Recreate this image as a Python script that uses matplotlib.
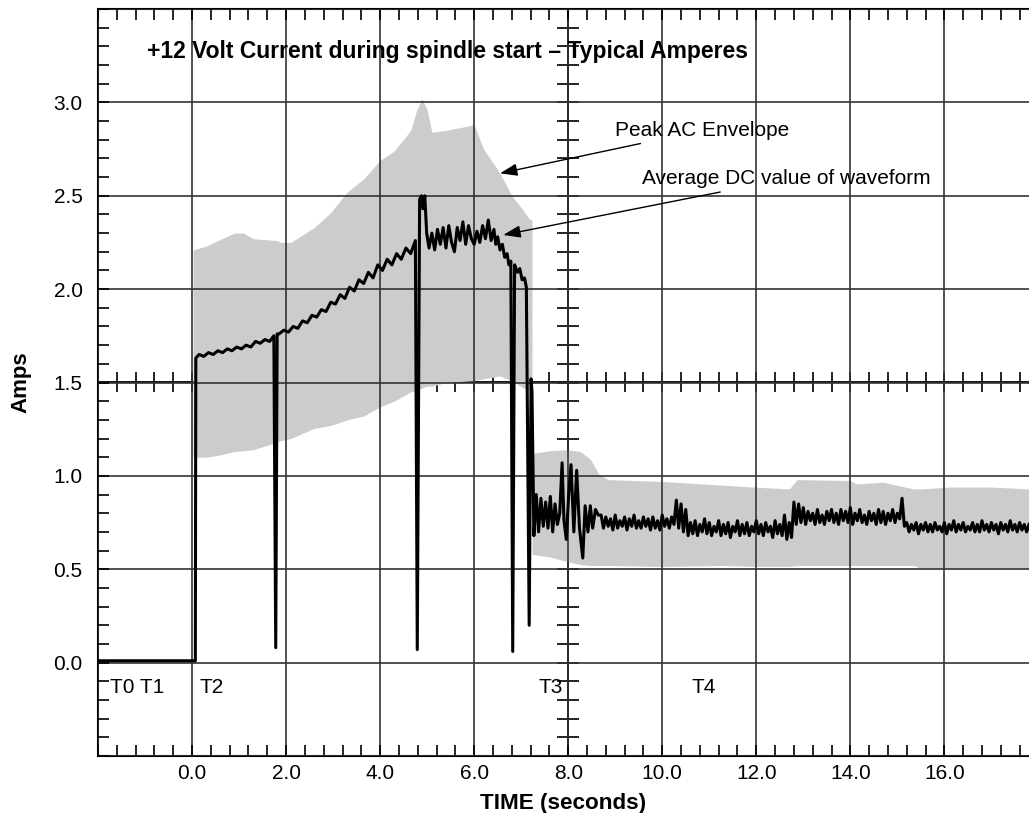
import numpy as np
import matplotlib.pyplot as plt
from matplotlib.ticker import MultipleLocator, NullFormatter

plt.rcParams['font.family'] = ['Liberation Sans', 'DejaVu Sans']

# peak AC envelope while the spindle spins up (seconds / amps)
env1_t = [0.02, 0.3, 0.55, 0.9, 1.1, 1.3, 1.8, 1.9, 2.1, 2.6, 2.95, 3.3, 3.65, 4.0,
          4.3, 4.65, 4.78, 4.89, 5.0, 5.1, 5.4, 6.0, 6.2, 6.55, 6.8, 7.05, 7.16, 7.23]
env1_hi = [2.21, 2.23, 2.26, 2.30, 2.30, 2.27, 2.26, 2.25, 2.25, 2.33, 2.41, 2.52, 2.59, 2.69,
           2.74, 2.85, 2.96, 3.02, 2.96, 2.84, 2.85, 2.88, 2.75, 2.62, 2.50, 2.42, 2.38, 2.37]
env1_lo = [1.10, 1.10, 1.11, 1.13, 1.135, 1.14, 1.18, 1.19, 1.20, 1.255, 1.27, 1.30, 1.32, 1.37,
           1.40, 1.45, 1.46, 1.47, 1.48, 1.48, 1.50, 1.51, 1.52, 1.535, 1.51, 1.47, 1.46, 1.456]

# envelope once at speed
env2_t = [7.23, 7.62, 8.0, 8.26, 8.47, 8.65, 8.85, 10.0, 11.3, 11.95, 12.7, 12.87,
          14.0, 14.13, 14.7, 15.35, 15.5, 16.1, 17.0, 17.8]
env2_hi = [1.12, 1.135, 1.14, 1.13, 1.09, 1.01, 0.98, 0.97, 0.95, 0.94, 0.93, 0.98,
           0.975, 0.957, 0.966, 0.93, 0.93, 0.94, 0.94, 0.93]
env2_lo = [0.58, 0.565, 0.54, 0.525, 0.52, 0.52, 0.52, 0.515, 0.52, 0.515, 0.515, 0.52,
           0.52, 0.52, 0.52, 0.52, 0.505, 0.505, 0.505, 0.505]

# average DC value, start-up part
dc_t = [-2.0, 0.07, 0.08, 0.15, 0.25, 0.35, 0.45, 0.55, 0.65, 0.75, 0.85, 0.95, 1.05, 1.15,
        1.25, 1.35, 1.45, 1.55, 1.65, 1.74, 1.78, 1.81,
        1.85, 1.95, 2.05, 2.15, 2.25, 2.35, 2.45, 2.55, 2.65, 2.75, 2.85, 2.95, 3.05, 3.15,
        3.25, 3.35, 3.45, 3.55, 3.65, 3.75, 3.85, 3.95, 4.05, 4.15, 4.25, 4.35, 4.45, 4.55,
        4.65, 4.75, 4.79, 4.84, 4.88, 4.91, 4.95, 4.99,
        5.04, 5.10, 5.16, 5.22, 5.28, 5.34, 5.40, 5.46, 5.52, 5.58, 5.64, 5.70, 5.76, 5.82,
        5.88, 5.94, 6.00, 6.06, 6.12, 6.18, 6.24, 6.30, 6.36, 6.42, 6.46, 6.50, 6.55, 6.60,
        6.65, 6.70, 6.74, 6.78, 6.82, 6.86, 6.92, 6.97, 7.02, 7.07, 7.11, 7.17, 7.21, 7.23,
        7.27, 7.32, 7.37, 7.42, 7.47, 7.52, 7.57, 7.62, 7.67, 7.72, 7.77, 7.82, 7.87, 7.91,
        7.96, 8.01, 8.06, 8.12, 8.18, 8.24, 8.31, 8.36, 8.42, 8.47, 8.52, 8.58, 8.64]
dc_v = [0.01, 0.01, 1.63, 1.65, 1.64, 1.66, 1.65, 1.67, 1.66, 1.68, 1.67, 1.69, 1.68, 1.70,
        1.69, 1.72, 1.71, 1.73, 1.72, 1.75, 0.08, 1.76,
        1.76, 1.78, 1.77, 1.80, 1.79, 1.83, 1.82, 1.86, 1.85, 1.89, 1.88, 1.93, 1.92, 1.97,
        1.95, 2.01, 1.99, 2.05, 2.03, 2.09, 2.06, 2.13, 2.10, 2.16, 2.13, 2.19, 2.16, 2.22,
        2.19, 2.26, 0.07, 2.48, 2.50, 2.43, 2.50, 2.30,
        2.22, 2.30, 2.21, 2.32, 2.24, 2.33, 2.22, 2.34, 2.25, 2.20, 2.33, 2.26, 2.36, 2.24,
        2.34, 2.27, 2.24, 2.31, 2.25, 2.34, 2.27, 2.37, 2.26, 2.32, 2.24, 2.28, 2.21, 2.24,
        2.17, 2.19, 2.13, 2.15, 0.06, 2.13, 2.09, 2.11, 2.05, 2.06, 2.01, 0.20, 1.52, 1.45,
        0.68, 0.90, 0.70, 0.88, 0.73, 0.86, 0.72, 0.89, 0.70, 0.85, 0.74, 0.80, 1.07, 0.76,
        0.66, 0.90, 1.06, 0.70, 1.03, 0.72, 0.56, 0.84, 0.70, 0.84, 0.72, 0.82, 0.79]

# average DC value at speed, one reading every 0.05 s from 8.70 s (one row per second)
run_t0 = 8.7
run_v = [0.79, 0.72, 0.78, 0.73, 0.77, 0.71, 0.79, 0.72, 0.76, 0.73, 0.78, 0.71, 0.77, 0.73, 0.79, 0.72, 0.76, 0.72, 0.78, 0.73,
         0.77, 0.71, 0.78, 0.72, 0.76, 0.71, 0.79, 0.73, 0.77, 0.72, 0.78, 0.74, 0.87, 0.72, 0.85, 0.70, 0.82, 0.68, 0.75, 0.69,
         0.76, 0.68, 0.74, 0.70, 0.77, 0.69, 0.75, 0.68, 0.73, 0.70, 0.76, 0.68, 0.74, 0.69, 0.75, 0.67, 0.73, 0.70, 0.76, 0.68,
         0.74, 0.69, 0.75, 0.68, 0.73, 0.70, 0.76, 0.69, 0.74, 0.68, 0.75, 0.70, 0.73, 0.67, 0.76, 0.69, 0.74, 0.68, 0.79, 0.66,
         0.75, 0.67, 0.86, 0.74, 0.85, 0.75, 0.83, 0.74, 0.81, 0.76, 0.80, 0.74, 0.82, 0.75, 0.79, 0.74, 0.81, 0.76, 0.82, 0.75,
         0.80, 0.74, 0.82, 0.76, 0.81, 0.75, 0.83, 0.74, 0.80, 0.76, 0.82, 0.75, 0.79, 0.74, 0.81, 0.76, 0.80, 0.74, 0.82, 0.75,
         0.81, 0.74, 0.80, 0.76, 0.82, 0.75, 0.80, 0.77, 0.88, 0.73, 0.75, 0.70, 0.74, 0.71, 0.75, 0.69, 0.74, 0.71, 0.75, 0.70,
         0.74, 0.70, 0.75, 0.71, 0.73, 0.70, 0.75, 0.69, 0.74, 0.71, 0.76, 0.70, 0.74, 0.71, 0.75, 0.70, 0.73, 0.71, 0.75, 0.70,
         0.74, 0.70, 0.76, 0.71, 0.74, 0.70, 0.75, 0.71, 0.74, 0.69, 0.75, 0.71, 0.74, 0.70, 0.76, 0.71, 0.74, 0.70, 0.75, 0.71,
         0.74, 0.70, 0.74]

x_ticks = [-2, 0, 2, 4, 6, 8, 10, 12, 14, 16]
x_labels = ['', '0.0', '2.0', '4.0', '6.0', '8.0', '10.0', '12.0', '14.0', '16.0']
y_ticks = [-0.5, 0.0, 0.5, 1.0, 1.5, 2.0, 2.5, 3.0, 3.5]
y_labels = ['', '0.0', '0.5', '1.0', '1.5', '2.0', '2.5', '3.0', '']

marks = [('T0 T1', -1.75, 'left'), ('T2', 0.15, 'left'), ('T3', 7.88, 'right'), ('T4', 10.62, 'left')]

run_t = run_t0 + 0.05 * np.arange(len(run_v))
t_all = np.concatenate([dc_t, run_t])
v_all = np.concatenate([dc_v, run_v])

fig = plt.figure(figsize=(10.29, 8.13), dpi=100)
ax = fig.add_axes([98 / 1029, 57 / 813, 931 / 1029, 747 / 813])

ax.fill_between(env1_t, env1_lo, env1_hi, color='#cccccc', lw=0, zorder=1)
ax.fill_between(env2_t, env2_lo, env2_hi, color='#cccccc', lw=0, zorder=1)
ax.plot(t_all, v_all, color='black', lw=2.2, zorder=3)

ax.set_xlim(-2, 17.8)
ax.set_ylim(-0.5, 3.5)
ax.set_xticks(x_ticks, x_labels)
ax.set_yticks(y_ticks, y_labels)
ax.xaxis.set_minor_locator(MultipleLocator(0.4))
ax.yaxis.set_minor_locator(MultipleLocator(0.1))
ax.tick_params(which='both', direction='in', top=True, right=False,
               length=8, width=1.2, color='black', labelsize=15)
ax.tick_params(axis='x', pad=6)
ax.tick_params(axis='y', pad=11)
ax.spines['right'].set_visible(False)
for s in ['left', 'top', 'bottom']:
    ax.spines[s].set_linewidth(1.5)
ax.set_axisbelow(False)
ax.grid(True, which='major', color='#333333', lw=1.2, zorder=2)

# the inner cross axes at 1.5 A and 8 s
sx = ax.secondary_xaxis(0.5)
sx.set_xticks(x_ticks)
sx.xaxis.set_minor_locator(MultipleLocator(0.4))
sx.xaxis.set_major_formatter(NullFormatter())
sx.tick_params(which='both', direction='inout', length=15, width=1.2, labeltop=False)
sx.spines['top'].set_linewidth(1.3)

sy = ax.secondary_yaxis(10 / 19.8)
sy.set_yticks(y_ticks)
sy.yaxis.set_minor_locator(MultipleLocator(0.1))
sy.yaxis.set_major_formatter(NullFormatter())
sy.tick_params(which='both', direction='inout', length=16, width=1.2, labelright=False)
sy.spines['right'].set_linewidth(1.3)

ax.text(-0.96, 3.27, '+12 Volt Current during spindle start \u2013 Typical Amperes',
        fontsize=16.5, fontweight='bold', ha='left', va='center')
for lab, xt, al in marks:
    ax.text(xt, -0.135, lab, fontsize=15, ha=al, va='center')

arrow = dict(arrowstyle='-|>,head_length=0.7,head_width=0.25', color='black', lw=1,
             mutation_scale=15, shrinkA=3, shrinkB=0)
ax.annotate('Peak AC Envelope', xy=(6.55, 2.62), xytext=(9.0, 2.85),
            fontsize=15, ha='left', va='center', arrowprops=arrow)
ax.annotate('Average DC value of waveform', xy=(6.62, 2.29), xytext=(9.57, 2.59),
            fontsize=15, ha='left', va='center', arrowprops=arrow)

ax.set_xlabel('TIME (seconds)', fontsize=16.2, fontweight='bold', labelpad=7)
ax.set_ylabel('Amps', fontsize=16, fontweight='bold')
ax.yaxis.set_label_coords(-0.072, 0.5)

fig.savefig('out.png', dpi=100)
